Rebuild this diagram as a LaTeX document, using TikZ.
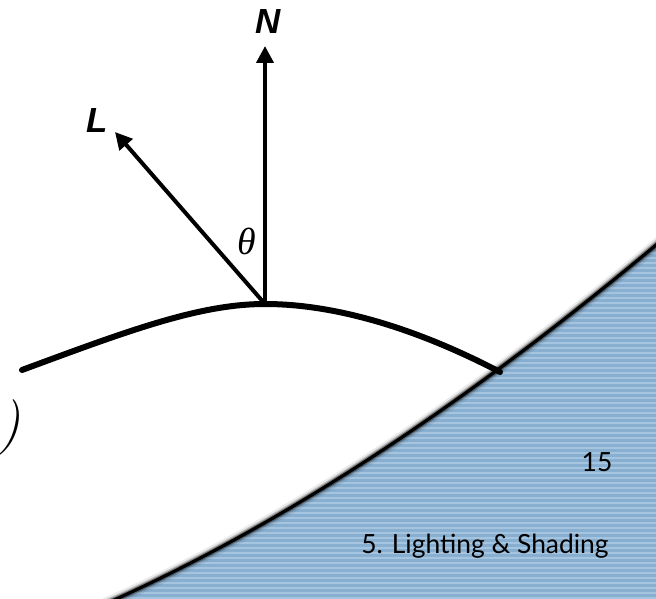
\documentclass[tikz,border=0pt]{standalone}
\usepackage{fontspec}
\newfontfamily\slidefont{Lato}
\newfontfamily\labfont{Liberation Sans}
\newfontfamily\greekfont{Liberation Serif}
\usetikzlibrary{arrows.meta}
\definecolor{bluebase}{HTML}{88AFD0}
\definecolor{bluestripe}{HTML}{A5C4DF}
\tikzset{
  vec/.style={line width=4bp,-{Triangle[length=17bp,width=17bp]}},
  surf/.style={line width=6bp,line cap=round},
  veclab/.style={font=\labfont\bfseries\itshape\fontsize{35}{35}\selectfont,inner sep=0pt},
  slidetxt/.style={font=\slidefont\fontsize{26.5}{26.5}\selectfont,inner sep=0pt,text=black}
}
\begin{document}
\begin{tikzpicture}[x=1bp,y=-1bp]
\useasboundingbox (0,0) rectangle (656,599);
\fill[white] (0,0) rectangle (656,599);
% blue region
\begin{scope}
\clip (105,604) .. controls (290,522) and (476,396) .. (662,240) -- (662,604) -- cycle;
\fill[bluebase] (100,230) rectangle (660,604);
\foreach \yy in {232,237,...,602} {
  \fill[bluestripe] (100,\yy) rectangle (660,\yy+2.4);
}
\end{scope}
% boundary with soft shadow
\draw[black,opacity=0.08,line width=12bp] (105,604) .. controls (290,522) and (476,396) .. (662,240);
\draw[black,opacity=0.18,line width=8bp] (105,604) .. controls (290,522) and (476,396) .. (662,240);
\draw[black,opacity=0.35,line width=5.5bp] (105,604) .. controls (290,522) and (476,396) .. (662,240);
\draw[black,line width=3.2bp] (105,604) .. controls (290,522) and (476,396) .. (662,240);
% surface
\coordinate (P) at (265,304);
\coordinate (S1) at (22,370);
\coordinate (S2) at (500,372);
\draw[surf] (S1) .. controls (130,330) and (200,304) .. (P) .. controls (330,304) and (410,325) .. (S2);
% vectors
\coordinate (Ntip) at (265,46);
\coordinate (Ltip) at (115,132);
\draw[vec] (P) -- (Ntip);
\draw[vec] (P) -- (Ltip);
\node[veclab] (N) at (268,22) {N};
\node[veclab] (L) at (97,121) {L};
\node[inner sep=0pt,font=\greekfont\itshape\fontsize{38}{38}\selectfont] (theta) at (247,241) {θ};
\node[inner sep=0pt,font=\fontsize{56}{56}\selectfont\itshape] (paren) at (10,428) {)};
% slide text
\node[slidetxt] (pg) at (597,462) {15};
\node[slidetxt] (title) at (485,546) {5. Lighting \& Shading};
\end{tikzpicture}
\end{document}
